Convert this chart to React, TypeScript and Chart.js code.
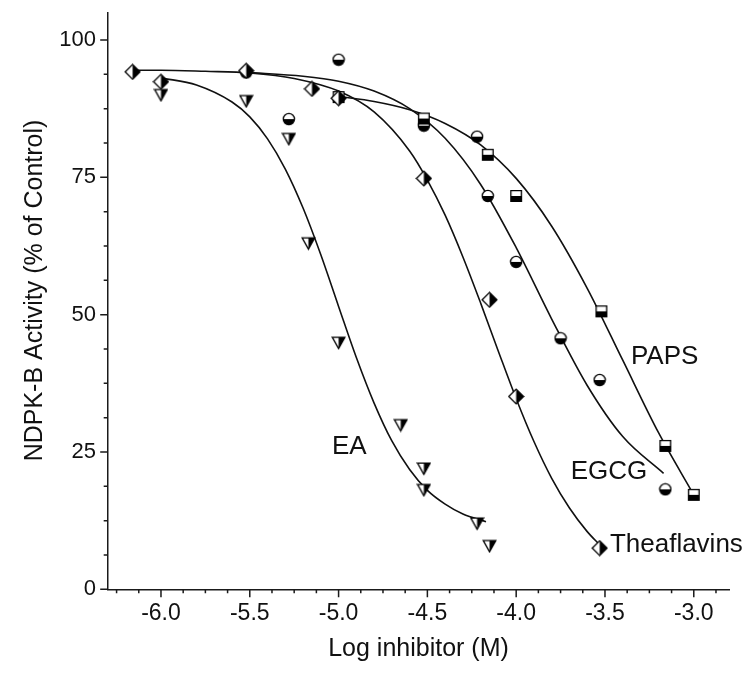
import React, { useEffect, useRef } from "react";
import { Chart, registerables } from "chart.js";

Chart.register(...registerables);

// ---- measured points (log M, % of control) ----
const THEA_X = [-6.16, -6.0, -5.52, -5.15, -5.0, -4.52, -4.15, -4.0, -3.53];
const THEA_Y = [94.2, 92.4, 94.4, 91.1, 89.4, 74.8, 52.7, 35.1, 7.5];

const PAPS_X = [-5.0, -4.52, -4.16, -4.0, -3.52, -3.16, -3.0];
const PAPS_Y = [89.6, 85.7, 79.1, 71.6, 50.6, 26.1, 17.2];

const EGCG_X = [-5.52, -5.28, -5.0, -4.52, -4.22, -4.16, -4.0, -3.75, -3.53, -3.16];
const EGCG_Y = [94.1, 85.6, 96.4, 84.4, 82.4, 71.6, 59.6, 45.7, 38.1, 18.2];

const EA_X = [-6.0, -5.52, -5.28, -5.17, -5.0, -4.65, -4.52, -4.52, -4.22, -4.15];
const EA_Y = [90.0, 88.9, 82.0, 63.0, 44.9, 29.9, 22.0, 18.1, 12.0, 7.9];

// ---- fitted curves ----
const THEA_FIT_X = [-6.17, -6.0, -5.75, -5.5, -5.25, -5.0, -4.8, -4.6, -4.5, -4.4, -4.3, -4.2, -4.1, -4.0, -3.9, -3.8, -3.7, -3.6, -3.53];
const THEA_FIT_Y = [94.5, 94.5, 94.3, 94.0, 93.0, 90.7, 86.9, 79.8, 74.5, 68.1, 60.5, 52.1, 43.3, 34.7, 26.9, 20.2, 14.8, 10.5, 8.1];

const PAPS_FIT_X = [-5.0, -4.8, -4.6, -4.4, -4.2, -4.0, -3.8, -3.6, -3.4, -3.2, -3.0];
const PAPS_FIT_Y = [89.7, 88.8, 87.3, 84.8, 80.9, 74.8, 66.1, 54.8, 41.7, 28.6, 17.2];

const EGCG_FIT_X = [-5.52, -5.2, -5.0, -4.8, -4.6, -4.4, -4.2, -4.0, -3.8, -3.6, -3.4, -3.17];
const EGCG_FIT_Y = [94.1, 93.4, 92.5, 90.7, 87.5, 82.1, 73.7, 62.2, 49.2, 37.1, 27.8, 21.1];

const EA_FIT_X = [-6.0, -5.8, -5.6, -5.5, -5.4, -5.3, -5.2, -5.1, -5.0, -4.9, -4.8, -4.7, -4.6, -4.5, -4.4, -4.3, -4.17];
const EA_FIT_Y = [93.1, 91.8, 88.7, 86.0, 82.0, 76.5, 69.4, 60.9, 51.5, 42.2, 33.9, 27.0, 21.8, 18.0, 15.5, 13.7, 12.3];

// ---- axes ----
const X_TICKS = [-6.0, -5.5, -5.0, -4.5, -4.0, -3.5, -3.0];
const Y_TICKS = [0, 25, 50, 75, 100];
const X_MINOR_STEP = 0.125;
const Y_MINOR_STEP = 6.25;

// ---- in-plot curve labels (data coordinates) ----
const CURVE_LABELS = ["PAPS", "EGCG", "EA", "Theaflavins"];
const CURVE_LABEL_X = [-3.164, -3.477, -4.94, -3.098];
const CURVE_LABEL_Y = [42.3, 21.4, 26.0, 8.1];

const FONT = "'Liberation Sans', Arial, Helvetica, sans-serif";

const pts = (xs: number[], ys: number[]) => xs.map((x, i) => ({ x, y: ys[i] }));

function makeMarker(kind: string): HTMLCanvasElement {
  const c = document.createElement("canvas");
  const s = kind === "diamond" ? 17 : kind === "triangle" ? 15 : 14;
  c.width = s;
  c.height = s;
  const g = c.getContext("2d") as CanvasRenderingContext2D;
  const m = s / 2;
  g.lineWidth = 1.3;
  g.strokeStyle = "#000";
  g.lineJoin = "miter";
  const whiteFill = () => {
    g.fillStyle = "#fff";
    g.fill();
  };
  if (kind === "diamond") {
    const r = 7.4;
    g.beginPath();
    g.moveTo(m, m - r); g.lineTo(m + r, m); g.lineTo(m, m + r); g.lineTo(m - r, m); g.closePath();
    whiteFill();
    g.beginPath();
    g.moveTo(m, m - r); g.lineTo(m + r, m); g.lineTo(m, m + r); g.closePath();
    g.fillStyle = "#000"; g.fill();
    g.beginPath();
    g.moveTo(m, m - r); g.lineTo(m + r, m); g.lineTo(m, m + r); g.lineTo(m - r, m); g.closePath();
    g.stroke();
  } else if (kind === "square") {
    const h = 5.3;
    g.beginPath(); g.rect(m - h, m - h, 2 * h, 2 * h); whiteFill();
    g.fillStyle = "#000"; g.fillRect(m - h, m, 2 * h, h);
    g.beginPath(); g.rect(m - h, m - h, 2 * h, 2 * h); g.stroke();
  } else if (kind === "circle") {
    const r = 5.6;
    g.beginPath(); g.arc(m, m, r, 0, Math.PI * 2); whiteFill();
    g.beginPath(); g.arc(m, m, r, 0, Math.PI); g.closePath(); g.fillStyle = "#000"; g.fill();
    g.beginPath(); g.arc(m, m, r, 0, Math.PI * 2); g.stroke();
  } else {
    const w = 6.3, top = m - 5.4, bot = m + 5.8;
    g.beginPath(); g.moveTo(m - w, top); g.lineTo(m + w, top); g.lineTo(m, bot); g.closePath(); whiteFill();
    g.beginPath(); g.moveTo(m, top); g.lineTo(m + w, top); g.lineTo(m, bot); g.closePath();
    g.fillStyle = "#000"; g.fill();
    g.beginPath(); g.moveTo(m - w, top); g.lineTo(m + w, top); g.lineTo(m, bot); g.closePath(); g.stroke();
  }
  return c;
}

const tickMarksPlugin = {
  id: "tickMarks",
  afterDraw(chart: any) {
    const { ctx, scales } = chart;
    const xs = scales.x, ys = scales.y;
    ctx.save();
    ctx.strokeStyle = "#1a1a1a";
    ctx.lineWidth = 1.5;
    ctx.beginPath();
    const xBase = ys.getPixelForValue(ys.min);
    for (let k = Math.ceil(xs.min / X_MINOR_STEP); k * X_MINOR_STEP <= xs.max + 1e-9; k++) {
      const v = k * X_MINOR_STEP;
      const major = X_TICKS.some((t) => Math.abs(t - v) < 1e-6);
      const px = xs.getPixelForValue(v);
      ctx.moveTo(px, xBase);
      ctx.lineTo(px, xBase + (major ? 8 : 4));
    }
    const yBase = xs.getPixelForValue(xs.min);
    for (let k = Math.ceil(ys.min / Y_MINOR_STEP); k * Y_MINOR_STEP <= ys.max + 1e-9; k++) {
      const v = k * Y_MINOR_STEP;
      const major = Y_TICKS.some((t) => Math.abs(t - v) < 1e-6);
      const py = ys.getPixelForValue(v);
      ctx.moveTo(yBase, py);
      ctx.lineTo(yBase - (major ? 7.5 : 4), py);
    }
    ctx.stroke();
    ctx.restore();
  },
};

const curveLabelPlugin = {
  id: "curveLabels",
  afterDatasetsDraw(chart: any) {
    const { ctx, scales } = chart;
    ctx.save();
    ctx.font = `26px ${FONT}`;
    ctx.fillStyle = "#111";
    ctx.textAlign = "center";
    ctx.textBaseline = "middle";
    CURVE_LABELS.forEach((t, i) => {
      ctx.fillText(t, scales.x.getPixelForValue(CURVE_LABEL_X[i]), scales.y.getPixelForValue(CURVE_LABEL_Y[i]));
    });
    ctx.restore();
  },
};

const zeroScalePadding = (s: any) => {
  s.paddingTop = 0;
  s.paddingBottom = 0;
  s.paddingLeft = 0;
  s.paddingRight = 0;
};

export default function App() {
  const ref = useRef<HTMLCanvasElement | null>(null);

  useEffect(() => {
    const prevMargin = document.body.style.margin;
    document.body.style.margin = "0";
    if (!ref.current) return;
    const diamond = makeMarker("diamond");
    const square = makeMarker("square");
    const circle = makeMarker("circle");
    const triangle = makeMarker("triangle");

    const markerSet = (label: string, data: any[], style: HTMLCanvasElement) => ({
      label,
      data,
      showLine: false,
      pointStyle: style,
      pointRadius: 7,
      pointHoverRadius: 7,
    });
    const curve = (label: string, data: any[]) => ({
      label,
      data,
      showLine: true,
      pointRadius: 0,
      pointHoverRadius: 0,
      borderColor: "#111",
      borderWidth: 1.6,
      cubicInterpolationMode: "monotone" as const,
      fill: false,
    });

    const chart = new Chart(ref.current, {
      type: "scatter",
      data: {
        datasets: [
          markerSet("Theaflavins", pts(THEA_X, THEA_Y), diamond),
          markerSet("PAPS", pts(PAPS_X, PAPS_Y), square),
          markerSet("EGCG", pts(EGCG_X, EGCG_Y), circle),
          markerSet("EA", pts(EA_X, EA_Y), triangle),
          curve("Theaflavins fit", pts(THEA_FIT_X, THEA_FIT_Y)),
          curve("PAPS fit", pts(PAPS_FIT_X, PAPS_FIT_Y)),
          curve("EGCG fit", pts(EGCG_FIT_X, EGCG_FIT_Y)),
          curve("EA fit", pts(EA_FIT_X, EA_FIT_Y)),
        ] as any,
      },
      options: {
        responsive: false,
        animation: false,
        events: [],
        layout: { autoPadding: false, padding: { top: 12.5, right: 20.7, left: 0, bottom: 0 } },
        plugins: { legend: { display: false }, tooltip: { enabled: false } },
        scales: {
          x: {
            type: "linear",
            min: -6.3,
            max: -2.8,
            afterBuildTicks: (s: any) => {
              s.ticks = X_TICKS.map((v) => ({ value: v }));
            },
            afterFit: (s: any) => {
              s.height = 90.7;
              zeroScalePadding(s);
            },
            grid: { display: false, drawTicks: false },
            border: { display: true, color: "#1a1a1a", width: 1.5 },
            ticks: {
              autoSkip: false,
              maxRotation: 0,
              padding: 10.5,
              color: "#111",
              font: { family: FONT, size: 23 },
              callback: (v: any) => Number(v).toFixed(1),
            },
            title: {
              display: true,
              text: "Log inhibitor (M)",
              color: "#111",
              font: { family: FONT, size: 25 },
              padding: { top: 0, bottom: 15.5 },
            },
          },
          y: {
            type: "linear",
            min: 0,
            max: 105,
            afterBuildTicks: (s: any) => {
              s.ticks = Y_TICKS.map((v) => ({ value: v }));
            },
            afterFit: (s: any) => {
              s.width = 107.7;
              zeroScalePadding(s);
            },
            grid: { display: false, drawTicks: false },
            border: { display: true, color: "#1a1a1a", width: 1.5 },
            ticks: {
              autoSkip: false,
              padding: 11.7,
              color: "#111",
              font: { family: FONT, size: 22 },
              callback: (v: any) => String(v),
            },
            title: {
              display: true,
              text: "   NDPK-B Activity (% of Control)",
              color: "#111",
              font: { family: FONT, size: 25 },
              padding: { top: 20.5, bottom: 0 },
            },
          },
        },
      } as any,
      plugins: [tickMarksPlugin, curveLabelPlugin],
    });
    return () => {
      chart.destroy();
      document.body.style.margin = prevMargin;
    };
  }, []);

  return (
    <div style={{ width: 750, height: 680, overflow: "hidden" }}>
      <canvas ref={ref} width={750} height={680} style={{ display: "block" }} />
    </div>
  );
}
